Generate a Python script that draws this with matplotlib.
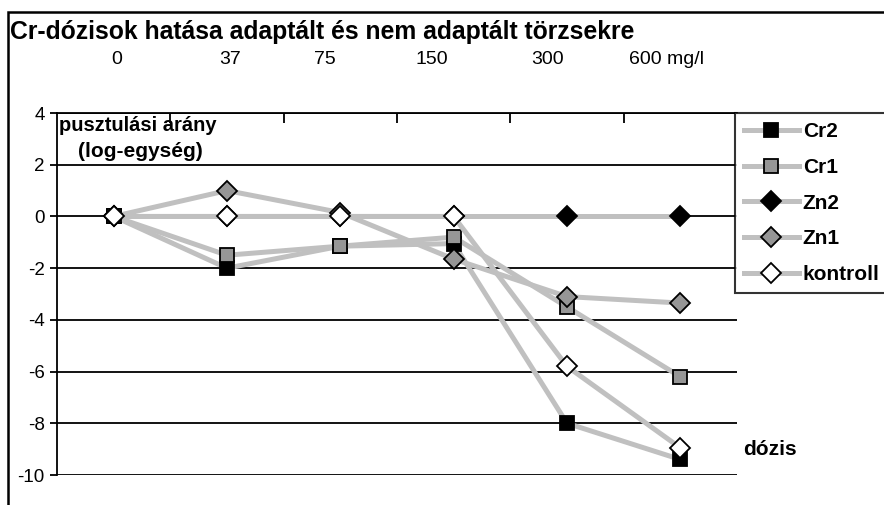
import matplotlib.pyplot as plt
from matplotlib.lines import Line2D
from matplotlib.patches import Rectangle

plt.rcParams['font.family'] = ['Liberation Sans', 'DejaVu Sans']
plt.rcParams['axes.unicode_minus'] = False

doses = ["0", "37", "75", "150", "300", "600 mg/l"]
series = ["Cr2", "Cr1", "Zn2", "Zn1", "kontroll"]
cr2 = [0, -2.0, -1.15, -1.05, -8.0, -9.4]
cr1 = [0, -1.5, -1.15, -0.8, -3.5, -6.2]
zn2 = [0, 0, 0, 0, 0, 0]
zn1 = [0, 1.0, 0.15, -1.65, -3.1, -3.35]
kontroll = [0, 0, 0, 0, -5.8, -8.95]

values = [cr2, cr1, zn2, zn1, kontroll]
markers = ["s", "s", "D", "D", "D"]
faces = ["black", "#969696", "black", "#969696", "white"]
msize = {"s": 10, "D": 10.5}

fig = plt.figure(figsize=(8.84, 5.05), dpi=100)
fig.patches.append(Rectangle((8 / 884, -0.2), 1.2, 1.2 - 12 / 505,
                             transform=fig.transFigure, fill=False,
                             edgecolor="black", lw=1.8, zorder=0))

ax = fig.add_axes([57 / 884, 1 - 475 / 505, 680 / 884, 362 / 505])
x = list(range(len(doses)))

for i, name in enumerate(series):
    ax.plot(x, values[i], color="#c0c0c0", lw=3.6, marker=markers[i],
            markersize=msize[markers[i]],
            markerfacecolor=faces[i], markeredgecolor="black",
            markeredgewidth=1.3, label=name, zorder=3 + i, clip_on=False)

ax.set_xlim(-0.5, 5.5)
ax.set_ylim(-10, 4)
ax.set_yticks(range(-10, 5, 2))
ax.yaxis.grid(True, color="black", lw=1.3)
ax.set_axisbelow(True)
ax.tick_params(axis="y", length=5, width=1.3, labelsize=13.5, pad=4)
ax.xaxis.set_ticks_position("top")
ax.set_xticks([0.5, 1.5, 2.5, 3.5, 4.5])
ax.set_xticklabels([])
ax.tick_params(axis="x", direction="in", length=7, width=1.3)
for s in ["right", "bottom"]:
    ax.spines[s].set_visible(False)
ax.spines["top"].set_linewidth(1.3)
ax.spines["left"].set_linewidth(1.3)

# dose labels above the plot
label_x = [0.03, 1.03, 1.86, 2.81, 3.83, 4.88]
for lx, d in zip(label_x, doses):
    ax.text(lx, 4 + 54 / 25.86, d, ha="center", va="center", fontsize=14)

ax.text(-0.48, 3.5, "pusztulási arány", fontsize=14.5, fontweight="bold",
        va="center", ha="left")
ax.text(0.24, 2.5, "(log-egység)", fontsize=15, fontweight="bold",
        va="center", ha="center")
ax.text(5.55, -9.0, "dózis", fontsize=15, fontweight="bold",
        va="center", ha="left", clip_on=False)

fig.text(10 / 884, 1 - 32 / 505, "Cr-dózisok hatása adaptált és nem adaptált törzsekre",
         fontsize=17.8, fontweight="bold", va="center", ha="left")

handles = []
for i, name in enumerate(series):
    handles.append(Line2D([], [], color="#c0c0c0", lw=3.6, marker=markers[i],
                          markersize=msize[markers[i]],
                          markerfacecolor=faces[i], markeredgecolor="black",
                          markeredgewidth=1.3))
leg = fig.legend(handles, series, loc="upper left",
                 bbox_to_anchor=(735 / 884, 1 - 113 / 505),
                 frameon=True, fancybox=False, edgecolor="black",
                 prop={"weight": "bold", "size": 15}, handlelength=2.6,
                 handletextpad=0.2, labelspacing=0.8, borderaxespad=0,
                 borderpad=0.45)
leg.get_frame().set_linewidth(1.5)

fig.savefig("out.png", dpi=100)
